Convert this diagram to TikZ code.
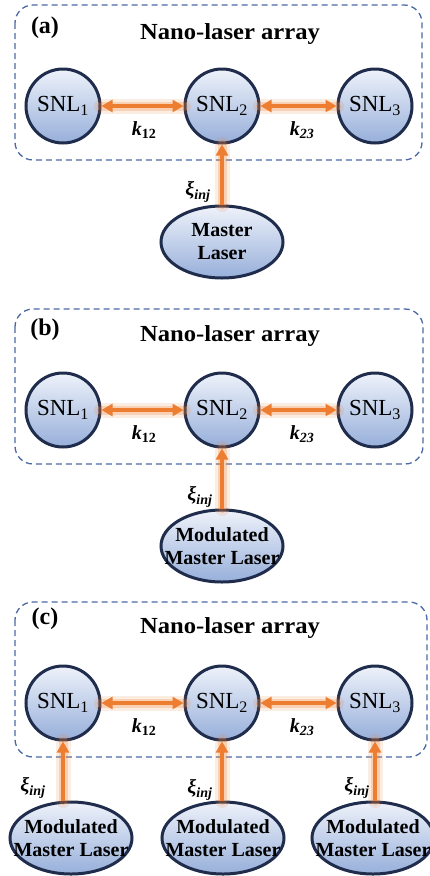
\documentclass[tikz,border=0pt]{standalone}
\usepackage{fontspec}
\usepackage{graphicx}
\setmainfont{Liberation Serif}
\usetikzlibrary{shapes.geometric,arrows.meta}
\definecolor{navy}{HTML}{1F2C4C}
\definecolor{boxblue}{HTML}{4A69A6}
\definecolor{lasor}{HTML}{ED7D31}
\definecolor{fillTop}{HTML}{EEF2FA}
\definecolor{fillBot}{HTML}{97AFDA}
\tikzset{
  snl/.style={circle, draw=navy, line width=3pt, minimum size=74pt, inner sep=0pt,
    top color=fillTop, bottom color=fillBot, font=\fontsize{23}{26}\selectfont},
  master/.style={ellipse, draw=navy, line width=3pt, minimum width=122pt, minimum height=72pt,
    inner sep=0pt, top color=fillTop, bottom color=fillBot},
  mtext/.style={inner sep=0pt, font=\bfseries\fontsize{20}{23}\selectfont, align=center},
  arraybox/.style={draw=boxblue, line width=1.3pt, dash pattern=on 6pt off 4pt, rounded corners=18pt},
  glowA/.style={draw=lasor, line width=15pt, opacity=0.14, line cap=round},
  glowB/.style={draw=lasor, line width=9pt, opacity=0.25, line cap=round},
  beam/.style={draw=lasor, line width=3.5pt, -{Triangle[length=11pt,width=12pt]}},
  bibeam/.style={draw=lasor, line width=3.5pt, {Triangle[length=11pt,width=12pt]}-{Triangle[length=11pt,width=12pt]}},
  ttl/.style={font=\bfseries\fontsize{23}{26}\selectfont, inner sep=0pt},
  tag/.style={font=\bfseries\fontsize{24}{27}\selectfont, inner sep=0pt},
  klab/.style={font=\bfseries\itshape\fontsize{20}{23}\selectfont, inner sep=0pt},
}
\newcommand{\arraypanel}[6]{%
  \draw[arraybox] (15,#2) rectangle (#4,#2+155);
  \node[tag] (#1tag) at (45,#2+#5) {(#3)};
  \node[ttl] (#1ttl) at (230,#2+#6) {\scalebox{1.07}[1]{Nano-laser array}};
  \node[snl] (#1s1) at (63,#2+101) {SNL\textsubscript{1}};
  \node[snl] (#1s2) at (222,#2+101) {SNL\textsubscript{2}};
  \node[snl] (#1s3) at (375,#2+101) {SNL\textsubscript{3}};
  \draw[glowA] (#1s1) -- (#1s2);
  \draw[glowB] (#1s1) -- (#1s2);
  \draw[bibeam] (#1s1) -- (#1s2);
  \draw[glowA] (#1s2) -- (#1s3);
  \draw[glowB] (#1s2) -- (#1s3);
  \draw[bibeam] (#1s2) -- (#1s3);
  \node[klab] (#1k12) at (144,#2+125) {k\textsubscript{\upshape 12}};
  \node[klab] (#1k23) at (302,#2+125) {k\textsubscript{23}};
}
\newcommand{\inject}[2]{%
  \draw[glowA] (#1.north -| #2) -- (#2);
  \draw[glowB] (#1.north -| #2) -- (#2);
  \draw[beam] (#1.north -| #2) -- (#2);
}
\begin{document}
\begin{tikzpicture}[x=1pt,y=-1pt]
\useasboundingbox (0,0) rectangle (429,876);
% ---------- (a)
\arraypanel{a}{5}{a}{422}{23}{29}
\node[master] (am) at (222,242) {};
\node[mtext] (amt) at (am) {Master\\Laser};
\inject{am}{as2}
\node[klab] (axi) at (198,192) {ξ\textsubscript{inj}};
% ---------- (b)
\arraypanel{b}{309}{b}{423}{21}{27}
\node[master] (bm) at (222,546) {};
\node[mtext] (bmt) at (bm) {Modulated\\Master Laser};
\inject{bm}{bs2}
\node[klab] (bxi) at (200,497) {ξ\textsubscript{inj}};
% ---------- (c)
\arraypanel{c}{602}{c}{427}{17}{26}
\node[master] (cm1) at (71,838) {};
\node[master] (cm2) at (223,838) {};
\node[master] (cm3) at (373,838) {};
\node[mtext] (cmt1) at (cm1) {Modulated\\Master Laser};
\node[mtext] (cmt2) at (cm2) {Modulated\\Master Laser};
\node[mtext] (cmt3) at (cm3) {Modulated\\Master Laser};
\inject{cm1}{cs1}
\inject{cm2}{cs2}
\inject{cm3}{cs3}
\node[klab] (cxi1) at (33,788) {ξ\textsubscript{inj}};
\node[klab] (cxi2) at (200,790) {ξ\textsubscript{inj}};
\node[klab] (cxi3) at (357,788) {ξ\textsubscript{inj}};
\end{tikzpicture}
\end{document}
